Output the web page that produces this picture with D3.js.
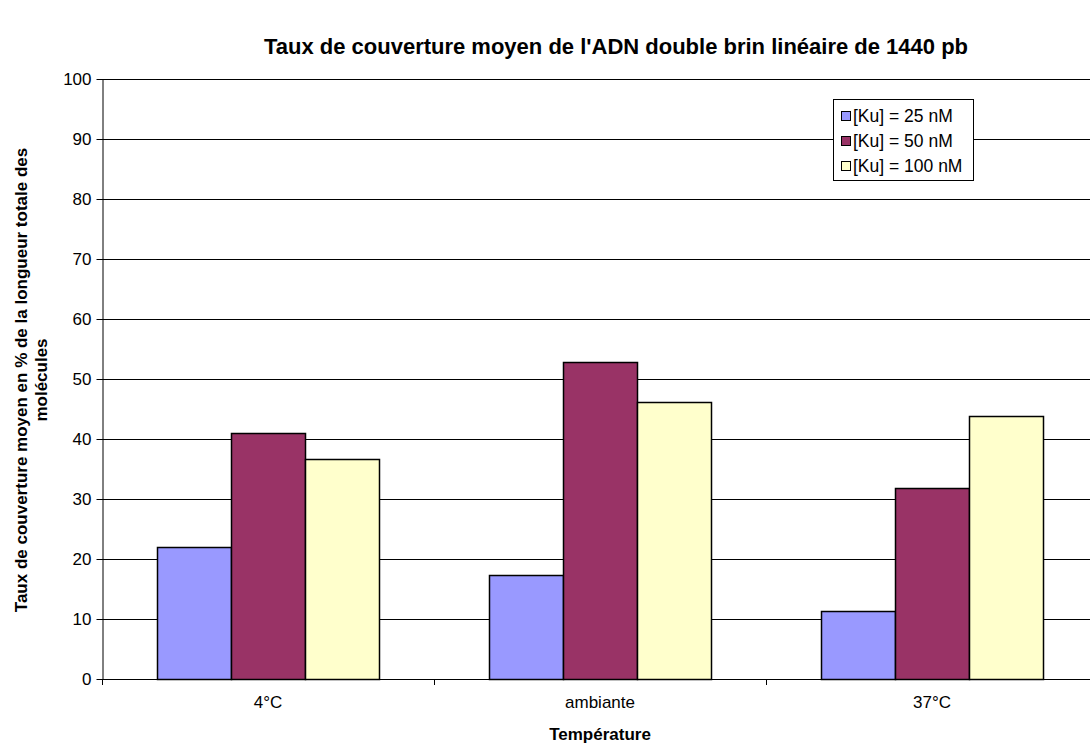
<!DOCTYPE html>
<html><head><meta charset="utf-8">
<script src="https://cdn.jsdelivr.net/npm/d3@7"></script>
<style>body{margin:0;background:#fff}svg{display:block;font-family:"Liberation Sans",Arial,sans-serif}</style>
</head><body><svg id="c" width="1090" height="747"></svg>
<script>
const categories = ["4°C", "ambiante", "37°C"];
const seriesNames = ["[Ku] = 25 nM", "[Ku] = 50 nM", "[Ku] = 100 nM"];
const s25 = [22.0, 17.3, 11.4];
const s50 = [41.0, 52.8, 31.8];
const s100 = [36.7, 46.1, 43.9];
const colors = ["#9999FF", "#993366", "#FFFFCC"];
const yTicks = [0,10,20,30,40,50,60,70,80,90,100];
const series = [s25, s50, s100];

const FONT = "Liberation Sans, Arial, sans-serif";
const svg = d3.select("#c");
const L = 102, R = 1098, T = 79, B = 679;
const x = d3.scaleBand().domain(categories).range([L, R]);
const barW = x.bandwidth() / 4.5;
const y = d3.scaleLinear().domain([0, 100]).range([B, T]);

// gridlines
svg.append("g").selectAll("line").data(yTicks.filter(d => d > 0)).join("line")
  .attr("x1", L).attr("x2", 1090).attr("y1", d => Math.round(y(d)) + 0.5).attr("y2", d => Math.round(y(d)) + 0.5)
  .attr("stroke", "#000").attr("stroke-width", 1);

// y axis
const ya = svg.append("g").attr("transform", `translate(${L + 0.5},0)`)
  .call(d3.axisLeft(y).tickValues(yTicks).tickSize(6).tickPadding(5).tickSizeOuter(0));
ya.select(".domain").attr("stroke", "#000");
ya.selectAll(".tick line").attr("stroke", "#000");
ya.selectAll("text").attr("font-size", 17).attr("fill", "#000").attr("font-family", FONT);

// bars
const g = svg.append("g");
categories.forEach((c, i) => {
  series.forEach((s, j) => {
    const x0 = x(c) + x.bandwidth() / 2 - 1.5 * barW + j * barW;
    g.append("rect")
      .attr("x", Math.round(x0) + 0.5).attr("width", Math.round(barW))
      .attr("y", Math.round(y(s[i])) + 0.5).attr("height", Math.round(B - y(s[i])))
      .attr("fill", colors[j]).attr("stroke", "#000").attr("stroke-width", 1.5);
  });
});

// x axis
const xa = svg.append("g").attr("transform", `translate(0,${B + 0.5})`)
  .call(d3.axisBottom(x).tickSize(0).tickPadding(16));
xa.select(".domain").attr("stroke", "#000").attr("d", `M${L},0H1090`);
xa.selectAll("text").attr("font-size", 17).attr("fill", "#000").attr("font-family", FONT);
svg.append("g").selectAll("line").data([L, ...categories.slice(1).map(c => x(c))]).join("line")
  .attr("x1", d => Math.round(d) + 0.5).attr("x2", d => Math.round(d) + 0.5)
  .attr("y1", B).attr("y2", B + 6).attr("stroke", "#000");

// title
svg.append("text").attr("x", 616).attr("y", 54).attr("text-anchor", "middle")
  .attr("font-size", 22).attr("font-weight", "bold").text("Taux de couverture moyen de l'ADN double brin linéaire de 1440 pb");
svg.append("text").attr("x", 600).attr("y", 740).attr("text-anchor", "middle")
  .attr("font-size", 17).attr("font-weight", "bold").text("Température");
const yt = svg.append("text").attr("transform", "translate(0,380) rotate(-90)").attr("text-anchor", "middle")
  .attr("font-size", 17).attr("font-weight", "bold");
yt.append("tspan").attr("x", 0).attr("y", 27).text("Taux de couverture moyen en % de la longueur totale des");
yt.append("tspan").attr("x", 0).attr("y", 47).text("molécules");

// legend
const lg = svg.append("g");
lg.append("rect").attr("x", 833.5).attr("y", 99.5).attr("width", 140).attr("height", 81)
  .attr("fill", "#fff").attr("stroke", "#000");
seriesNames.forEach((n, j) => {
  const cy = 116 + j * 25;
  lg.append("rect").attr("x", 841.5).attr("y", cy - 4.5).attr("width", 9).attr("height", 9)
    .attr("fill", colors[j]).attr("stroke", "#000");
  lg.append("text").attr("x", 853).attr("y", cy + 6).attr("font-size", 17.5).text(n);
});
</script></body></html>
